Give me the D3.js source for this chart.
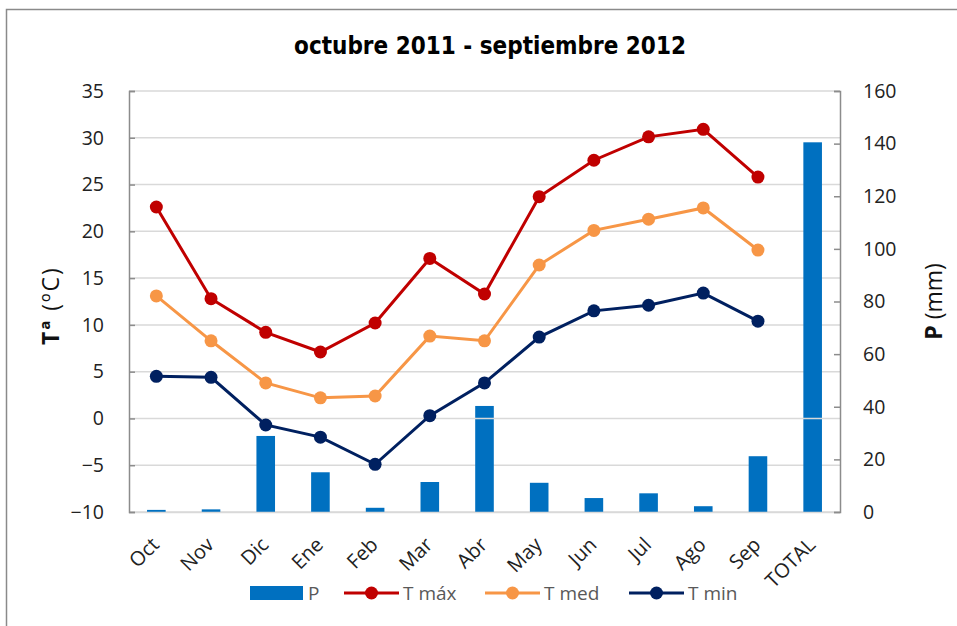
<!DOCTYPE html>
<html>
<head>
<meta charset="utf-8">
<script src="https://cdn.jsdelivr.net/npm/d3@7"></script>
<style>
  body { margin: 0; background: #fff; }
  svg { display: block; }
</style>
</head>
<body>
<svg id="chart" width="957" height="626"></svg>
<script>
const months = ['Oct', 'Nov', 'Dic', 'Ene', 'Feb', 'Mar', 'Abr', 'May', 'Jun', 'Jul', 'Ago', 'Sep', 'TOTAL'];
const precip = [0.8, 1.0, 28.9, 15.1, 1.6, 11.4, 40.3, 11.1, 5.3, 7.1, 2.2, 21.2, 140.5];
const tMax = [22.6, 12.8, 9.2, 7.1, 10.2, 17.1, 13.3, 23.7, 27.6, 30.1, 30.9, 25.8];
const tMed = [13.1, 8.3, 3.8, 2.2, 2.4, 8.8, 8.3, 16.4, 20.1, 21.3, 22.5, 18.0];
const tMin = [4.5, 4.4, -0.7, -2.0, -4.9, 0.3, 3.8, 8.7, 11.5, 12.1, 13.4, 10.4];
const tTicks = [-10, -5, 0, 5, 10, 15, 20, 25, 30, 35];
const pTicks = [0, 20, 40, 60, 80, 100, 120, 140, 160];

const plotLeft = 129, plotRight = 840, plotTop = 91, plotBottom = 512;
const axisColor = '#8c8c8c';
const gridColor = '#d9d9d9';
const tickFont = '"Open Sans", sans-serif';

const svg = d3.select('#chart');

// outer frame
svg.append('rect')
  .attr('x', 6.5).attr('y', 9.5)
  .attr('width', 960).attr('height', 630)
  .attr('fill', 'none')
  .attr('stroke', '#8a8a8a')
  .attr('stroke-width', 1.5);

svg.append('text')
  .attr('x', 490).attr('y', 54)
  .attr('text-anchor', 'middle')
  .style('font-family', '"DejaVu Sans Condensed", "DejaVu Sans", sans-serif')
  .style('font-weight', 'bold')
  .style('font-size', '24px')
  .text('octubre 2011 - septiembre 2012');

const x = d3.scaleBand().domain(months).range([plotLeft, plotRight]);
const yT = d3.scaleLinear().domain([-10, 35]).range([plotBottom, plotTop]);
const yP = d3.scaleLinear().domain([0, 160]).range([plotBottom, plotTop]);

// gridlines
svg.append('g')
  .selectAll('line')
  .data(tTicks.filter(d => d !== 0))
  .join('line')
  .attr('x1', plotLeft).attr('x2', plotRight)
  .attr('y1', d => yT(d)).attr('y2', d => yT(d))
  .attr('stroke', gridColor)
  .attr('stroke-width', 1.5);

// precipitation bars
const barW = x.bandwidth() * 0.34;
svg.append('g')
  .selectAll('rect')
  .data(precip)
  .join('rect')
  .attr('x', (d, i) => x(months[i]) + x.bandwidth() / 2 - barW / 2)
  .attr('y', d => yP(d))
  .attr('width', barW)
  .attr('height', d => plotBottom - yP(d))
  .attr('fill', '#0070c0');

// zero line drawn over the bars
svg.append('line')
  .attr('x1', plotLeft).attr('x2', plotRight)
  .attr('y1', yT(0)).attr('y2', yT(0))
  .attr('stroke', gridColor)
  .attr('stroke-width', 1.5);

// bottom axis
const axB = svg.append('g')
  .attr('transform', `translate(0,${plotBottom})`)
  .call(d3.axisBottom(x).tickSize(0).tickPadding(0));
axB.select('path').attr('stroke', gridColor).attr('stroke-width', 1.5);
axB.selectAll('text')
  .style('font-family', tickFont).style('font-size', '20px').attr('fill', '#222')
  .attr('text-anchor', 'end')
  .attr('y', 0)
  .attr('dy', 0)
  .attr('transform', 'translate(4,34) rotate(-45)');

// left axis
const axL = svg.append('g')
  .attr('transform', `translate(${plotLeft},0)`)
  .call(d3.axisLeft(yT).tickValues(tTicks).tickSize(-6).tickPadding(25));
axL.selectAll('path, line').attr('stroke', axisColor).attr('stroke-width', 1.5);
axL.selectAll('text')
  .style('font-family', tickFont).style('font-size', '19.5px').attr('fill', '#222');

// right axis
const axR = svg.append('g')
  .attr('transform', `translate(${plotRight},0)`)
  .call(d3.axisRight(yP).tickValues(pTicks).tickSize(-6).tickPadding(23));
axR.selectAll('path, line').attr('stroke', axisColor).attr('stroke-width', 1.5);
axR.selectAll('text')
  .style('font-family', tickFont).style('font-size', '19.5px').attr('fill', '#222');

// axis titles
const tTitle = svg.append('text')
  .attr('transform', `translate(59,${(plotTop + plotBottom) / 2 + 4}) rotate(-90)`)
  .attr('text-anchor', 'middle')
  .style('font-family', tickFont).style('font-size', '23px')
  .style('letter-spacing', '2px').attr('fill', '#111');
tTitle.append('tspan').style('font-weight', 'bold').text('Tª');
tTitle.append('tspan').text(' (ºC)');

const pTitle = svg.append('text')
  .attr('transform', `translate(942,${(plotTop + plotBottom) / 2}) rotate(-90)`)
  .attr('text-anchor', 'middle')
  .style('font-family', tickFont).style('font-size', '23px').attr('fill', '#111');
pTitle.append('tspan').style('font-weight', 'bold').text('P');
pTitle.append('tspan').text(' (mm)');

// temperature lines
const series = [
  { name: 'T máx', values: tMax, color: '#c00000' },
  { name: 'T med', values: tMed, color: '#f79646' },
  { name: 'T min', values: tMin, color: '#002060' }
];
const line = d3.line()
  .x((d, i) => x(months[i]) + x.bandwidth() / 2)
  .y(d => yT(d));

series.forEach(s => {
  svg.append('path')
    .datum(s.values)
    .attr('d', line)
    .attr('fill', 'none')
    .attr('stroke', s.color)
    .attr('stroke-width', 3);
  svg.append('g')
    .selectAll('circle')
    .data(s.values)
    .join('circle')
    .attr('cx', (d, i) => x(months[i]) + x.bandwidth() / 2)
    .attr('cy', d => yT(d))
    .attr('r', 6.5)
    .attr('fill', s.color);
});

// legend
const legY = 593;
const leg = svg.append('g')
  .style('font-family', tickFont).style('font-size', '19px');
leg.append('rect')
  .attr('x', 250).attr('y', legY - 7).attr('width', 53).attr('height', 14)
  .attr('fill', '#0070c0');
leg.append('text')
  .attr('x', 308).attr('y', legY).attr('dy', '0.35em')
  .attr('fill', '#595959').text('P');
const legX = [344, 485, 629];
series.forEach((s, i) => {
  const g = leg.append('g').attr('transform', `translate(${legX[i]},${legY})`);
  g.append('line').attr('x1', 0).attr('x2', 55).attr('stroke', s.color).attr('stroke-width', 3);
  g.append('circle').attr('cx', 27.5).attr('r', 6.5).attr('fill', s.color);
  g.append('text').attr('x', 59).attr('dy', '0.35em').attr('fill', '#595959').text(s.name);
});
</script>
</body>
</html>
